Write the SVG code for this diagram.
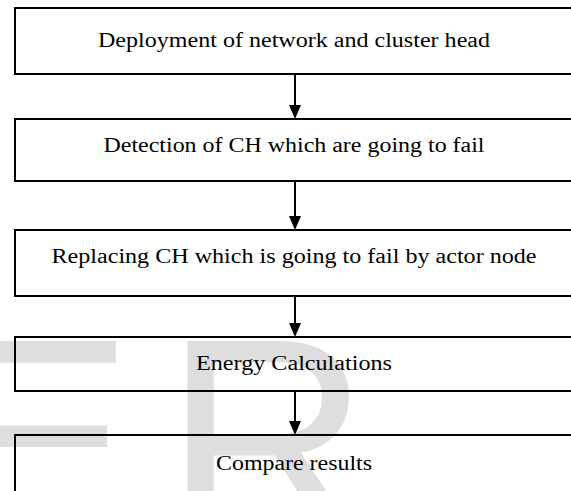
<svg xmlns="http://www.w3.org/2000/svg" width="571" height="491" viewBox="0 0 571 491">
<style>
.box{fill:none;stroke:#000;stroke-width:2}
.lbl{font-family:"Liberation Serif","Times New Roman",serif;font-size:20.5px;fill:#000;text-anchor:middle}
.wm{font-family:"Liberation Sans",Arial,sans-serif;font-size:285px;fill:#dedede}
.conn{stroke:#000;stroke-width:2;fill:none}
</style>
<rect width="571" height="491" fill="#fff"/>
<g id="watermark">
<text class="wm" x="-68" y="537" textLength="203" lengthAdjust="spacingAndGlyphs">E</text>
<text class="wm" x="164" y="537">R</text>
</g>
<g id="n1"><rect class="box" x="15" y="8" width="560" height="66"/><text class="lbl" x="294" y="47" textLength="392" lengthAdjust="spacingAndGlyphs">Deployment of network and cluster head</text></g>
<g id="n2"><rect class="box" x="15" y="119" width="560" height="62"/><text class="lbl" x="294" y="152" textLength="381" lengthAdjust="spacingAndGlyphs">Detection of CH which are going to fail</text></g>
<g id="n3"><rect class="box" x="15" y="230" width="560" height="66"/><text class="lbl" x="294" y="263" textLength="485" lengthAdjust="spacingAndGlyphs">Replacing CH which is going to fail by actor node</text></g>
<g id="n4"><rect class="box" x="15" y="337" width="560" height="54"/><text class="lbl" x="294" y="370" textLength="196" lengthAdjust="spacingAndGlyphs">Energy Calculations</text></g>
<g id="n5"><rect class="box" x="15" y="435" width="560" height="70"/><text class="lbl" x="294" y="470" textLength="156" lengthAdjust="spacingAndGlyphs">Compare results</text></g>
<g id="connectors">
<path class="conn" d="M295,74 V105"/><path d="M289,105 H301 L295,119 Z"/>
<path class="conn" d="M295,181 V216"/><path d="M289,216 H301 L295,230 Z"/>
<path class="conn" d="M295,296 V323"/><path d="M289,323 H301 L295,337 Z"/>
<path class="conn" d="M295,391 V421"/><path d="M289,421 H301 L295,435 Z"/>
</g>
</svg>
